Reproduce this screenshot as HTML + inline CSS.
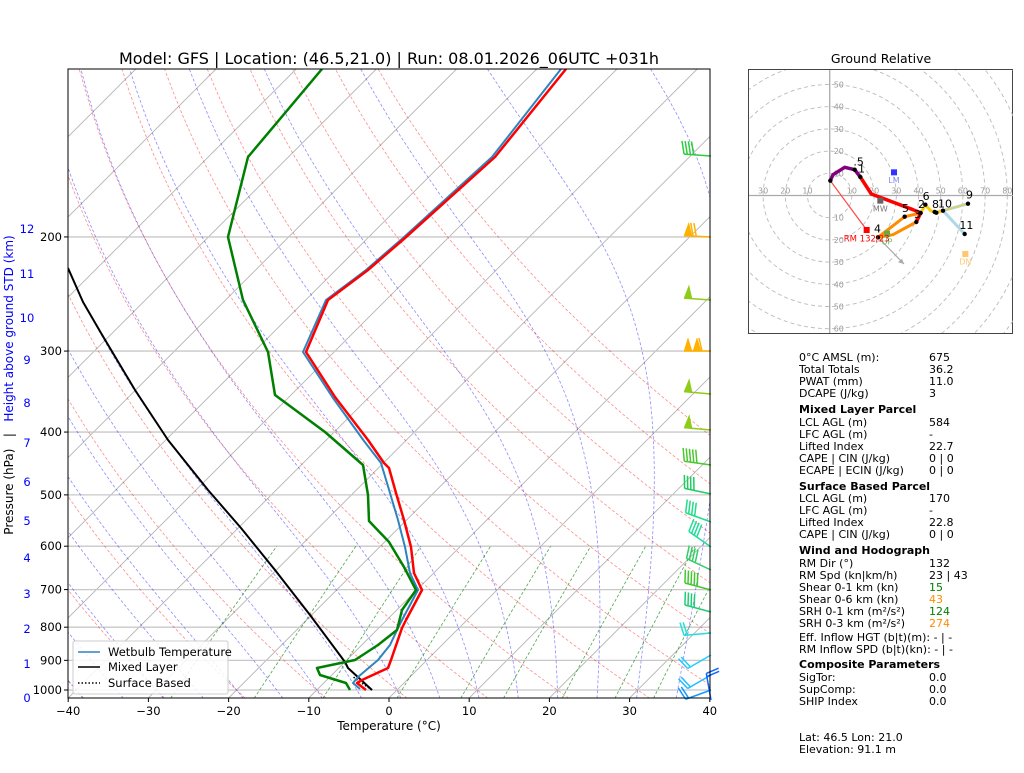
<!DOCTYPE html>
<html><head><meta charset="utf-8"><style>
body{margin:0;background:#fff;width:1024px;height:768px;overflow:hidden;font-family:"Liberation Sans","DejaVu Sans",sans-serif;}
svg text{font-family:"DejaVu Sans","Liberation Sans",sans-serif;}
</style></head><body>
<svg id="s" width="1024" height="768" xmlns="http://www.w3.org/2000/svg">
<defs><clipPath id="c"><rect x="68" y="69" width="642" height="629"/></clipPath>
<clipPath id="h"><rect x="749" y="70" width="264" height="263"/></clipPath>
<clipPath id="bc"><rect x="600" y="69" width="120" height="632"/></clipPath></defs>
<g id="bg" clip-path="url(#c)"></g>
<g id="prof" clip-path="url(#c)" fill="none" stroke-linejoin="round">
<polyline stroke="#000" stroke-width="2" points="372,690 348,668 345,662 310,615 275,570 241,528 208,490 168,440 135,390 101,333 83,302 68,268"/>
<polyline stroke="#000" stroke-width="1.5" stroke-dasharray="1.5,2" points="372,690 360,682 352,676"/>
<polyline stroke="#2f83c0" stroke-width="2" points="360,689 353,683 358,677 378,660 390,645 398,628 402,620 418,590 410,573 405,547 398,520 390,493 381,463 364,441 333,398 303,352 326,300 366,270 403,238 492,157 561,69"/>
<polyline stroke="#ff0000" stroke-width="2.5" points="366,690 357,683 362,680 388,668 391,660 402,628 406,620 422,590 414,573 411,547 404,520 396,493 389,468 384,463 368,440 335,397 306,352 328,300 368,270 405,238 495,157 566,69"/>
<polyline stroke="#008000" stroke-width="2.5" points="350,690 346,683 320,675 317,668 355,660 378,645 397,630 402,610 416,590 404,567 389,542 369,521 368,495 363,465 325,432 275,395 268,352 243,300 228,237 248,157 322,69"/>
</g>
<g id="barbs" fill="none" stroke-width="1.5" clip-path="url(#bc)"></g>
<rect x="68" y="69" width="642" height="629" fill="none" stroke="#000" stroke-width="1"/>
<g font-size="11.5" fill="#000" text-anchor="end" id="yl"></g>
<g font-size="11.5" fill="#00f" text-anchor="middle" id="hl"></g>
<g font-size="11.5" text-anchor="middle" id="xl"></g>
<text x="389" y="730" font-size="12" text-anchor="middle">Temperature (°C)</text>
<text transform="translate(13,385) rotate(-90)" font-size="12" text-anchor="middle" xml:space="preserve"><tspan fill="#000">Pressure (hPa)   |   </tspan><tspan fill="#00f">Height above ground STD (km)</tspan></text>
<text x="389" y="64" font-size="16" text-anchor="middle">Model: GFS | Location: (46.5,21.0) | Run: 08.01.2026_06UTC +031h</text>
<g>
<rect x="73" y="641" width="155" height="53" fill="#fff" fill-opacity="0.85" stroke="#ccc" rx="2"/>
<line x1="78" y1="652" x2="100" y2="652" stroke="#2f83c0" stroke-width="1.6"/>
<line x1="78" y1="667" x2="100" y2="667" stroke="#000" stroke-width="1.6"/>
<line x1="78" y1="683" x2="100" y2="683" stroke="#000" stroke-width="1.6" stroke-dasharray="1.5,2"/>
<g font-size="11.5"><text x="108" y="656">Wetbulb Temperature</text><text x="108" y="671">Mixed Layer</text><text x="108" y="687">Surface Based</text></g>
</g>
<text x="881" y="63" font-size="12.5" text-anchor="middle">Ground Relative</text>
<g id="hodo"></g>
<g font-size="11" id="tp"></g>
</svg>
<script>
const NS="http://www.w3.org/2000/svg";
function el(p,t,a,txt){const e=document.createElementNS(NS,t);for(const k in a)e.setAttribute(k,a[k]);if(txt!==undefined)e.textContent=txt;p.appendChild(e);return e;}
const Y=p=>690-281.5*Math.log(1000/p);
const X=(T,p)=>389+8.02*T+(698-Y(p));
const bg=document.getElementById('bg');
for(let T=-160;T<=40;T+=10){el(bg,'line',{x1:X(T,1030),y1:Y(1030),x2:X(T,100),y2:Y(100),stroke:'#b4b4b4','stroke-width':0.9});}
for(let p=100;p<=1000;p+=100){el(bg,'line',{x1:68,y1:Y(p),x2:710,y2:Y(p),stroke:'#c8c8c8','stroke-width':1.3});}
function pl(pts,a){el(bg,'polyline',Object.assign({points:pts.map(q=>q[0].toFixed(1)+','+q[1].toFixed(1)).join(' '),fill:'none'},a));}
for(let t0=-40;t0<=90;t0+=10){const th=t0+273.15;const pts=[];for(let p=1030;p>=100;p-=10){const T=th*Math.pow(p/1000,0.2857)-273.15;pts.push([X(T,p),Y(p)]);}pl(pts,{stroke:'#ff0000','stroke-opacity':0.45,'stroke-width':0.8,'stroke-dasharray':'3,2'});}
function es(Tc){return 6.112*Math.exp(17.67*Tc/(Tc+243.5));}
function dTdp(T,p){const e=es(T-273.15);const rs=0.622*e/Math.max(p-e,1);const Rd=287.04,Cp=1005.7,Lv=2.501e6;return (Rd*T+Lv*rs)/(p*(Cp+Lv*Lv*rs*0.622/(Rd*T*T)));}
for(let t0=-40;t0<=90;t0+=5){let T=t0+273.15;const pts=[];
 let Td=T;for(let p=1000;p<1030;p+=2){Td+=dTdp(Td,p)*2;}pts.push([X(Td-273.15,1030),Y(1030)]);
 for(let p=1000;p>=100;p-=2){if(p%10==0)pts.push([X(T-273.15,p),Y(p)]);T-=dTdp(T,p)*2;}
 pl(pts,{stroke:'#0000ff','stroke-opacity':0.45,'stroke-width':0.8,'stroke-dasharray':'3,2'});}
[0.0004,0.001,0.002,0.004,0.007,0.01,0.016,0.024,0.032].forEach(w=>{const pts=[];for(let p=1030;p>=600;p-=10){const e=w*p/(0.622+w);const l=Math.log(e/6.112);const Td=243.5*l/(17.67-l);pts.push([X(Td,p),Y(p)]);}pl(pts,{stroke:'#008000','stroke-opacity':0.7,'stroke-width':0.8,'stroke-dasharray':'3,2'});});
const yl=document.getElementById('yl');[200,300,400,500,600,700,800,900,1000].forEach(p=>{el(yl,'text',{x:62,y:Y(p)+4},String(p));el(yl,'line',{x1:64,y1:Y(p),x2:68,y2:Y(p),stroke:'#000'});});
const hl=document.getElementById('hl');[[0,698],[1,664],[2,629],[3,594],[4,558],[5,521],[6,482],[7,443],[8,403],[9,360],[10,318],[11,274],[12,229]].forEach(a=>el(hl,'text',{x:27,y:a[1]+4},String(a[0])));
const xl=document.getElementById('xl');for(let t=-40;t<=40;t+=10){const x=389+8.02*t;el(xl,'text',{x:x,y:715},(t<0?'\u2212':'')+Math.abs(t));el(xl,'line',{x1:x,y1:698,x2:x,y2:702,stroke:'#000'});}
const bb=document.getElementById('barbs');
const B=[[156,'#2ecc40',0,4,4],[237,'#ffb000',1,2,3],[300,'#8fcc1a',1,0,4],[351,'#ffb000',2,1,0],[394,'#8fcc1a',1,0,5],[430,'#8fcc1a',1,0,5],[465,'#4cc830',0,5,8],[494,'#22cc60',0,4,12],[522,'#22dd88',0,4,20],[547,'#22dd99',0,4,35],[570,'#33cc66',0,4,25],[590,'#44c830',0,5,15],[612,'#22cc77',0,4,15],[633,'#22dddd',0,2,-5],[655,'#22ccff',0,2,-30],[675,'#22bbff',0,2,-30],[690,'#1199ff',0,2,-20],[700,'#1166ff',0,2,80]];
B.forEach(b=>{const y=b[0],c=b[1],ang=b[4];
 const g=el(bb,'g',{transform:`translate(711,${y}) rotate(${ang})`,stroke:c});
 el(g,'line',{x1:0,y1:0,x2:-27,y2:0});let x=-27;
 for(let i=0;i<b[2];i++){el(g,'polygon',{points:`${x},0 ${x+4},-13 ${x+8},0`,fill:c,stroke:c,'stroke-width':0.5});x+=9;}
 for(let i=0;i<b[3];i++){el(g,'line',{x1:x,y1:0,x2:x-3,y2:-13});x+=3.2;}
});
const ho=document.getElementById('hodo');
el(ho,'rect',{x:748.5,y:69.5,width:264,height:264,fill:'#fff',stroke:'#444','stroke-width':1});
const hg=el(ho,'g',{'clip-path':'url(#h)'});
const cx=829.7,cy=195.5,k=2.22;
for(let r=10;r<=120;r+=10)el(hg,'circle',{cx:cx,cy:cy,r:r*k,fill:'none',stroke:'#bbb','stroke-dasharray':'4,3','stroke-width':0.9});
el(hg,'line',{x1:749,y1:cy,x2:1013,y2:cy,stroke:'#aaa','stroke-width':1.3});
el(hg,'line',{x1:cx,y1:70,x2:cx,y2:333,stroke:'#aaa','stroke-width':1.3});
for(let r=10;r<=80;r+=10){el(hg,'text',{x:cx+r*k,y:cy-2,'font-size':8,fill:'#999','text-anchor':'middle'},r);if(r<=30)el(hg,'text',{x:cx-r*k,y:cy-2,'font-size':8,fill:'#999','text-anchor':'middle'},r);}
for(let r=10;r<=60;r+=10){el(hg,'text',{x:cx+4,y:cy-r*k+3,'font-size':8,fill:'#999'},r);el(hg,'text',{x:cx+4,y:cy+r*k+3,'font-size':8,fill:'#999'},r);}
const Z=(a)=>a.map(q=>(748+q[0]/3).toFixed(1)+','+(68+q[1]/3).toFixed(1)).join(' ');
function hp(pts,c,w){el(hg,'polyline',{points:Z(pts),fill:'none',stroke:c,'stroke-width':w,'stroke-linejoin':'round'});}
hp([[247,338],[356,486]],'#ff4444',1.2);
hp([[390,508],[468,588]],'#aaa',1.2);
el(hg,'polygon',{points:Z([[468,588],[450,583],[462,572]]),fill:'#aaa'});
hp([[585,428],[660,407]],'#add8e6',3);hp([[585,428],[650,498]],'#add8e6',3);
hp([[518,435],[532,410],[548,428],[565,434],[585,428]],'#ffcc00',3);
hp([[585,428],[660,407]],'#ffcc00',1);
hp([[518,435],[470,446],[390,508],[435,500],[505,462],[518,435]],'#ff8c00',3);
hp([[337,327],[370,378],[495,425],[518,435],[505,462]],'#ff0000',3.5);
hp([[247,338],[255,320],[290,298],[320,305],[337,327]],'#800080',3.5);
[[247,338],[320,305],[337,327],[518,435],[505,462],[390,508],[470,446],[532,410],[565,434],[560,432],[660,407],[585,428],[650,498]].forEach(q=>el(hg,'circle',{cx:748+q[0]/3,cy:68+q[1]/3,r:2.2,fill:'#000'}));
[['.5',316,292],['1',330,313],['2',510,420],['3',498,450],['4',378,493],['5',462,432],['6',524,396],['8',552,420],['10',570,418],['9',654,392],['11',634,483]].forEach(t=>el(hg,'text',{x:748+t[1]/3,y:68+t[2]/3,'font-size':11},t[0]));
function sq(x,y,c){el(hg,'rect',{x:748+x/3-3,y:68+y/3-3,width:6,height:6,fill:c});}
sq(438,313,'#3333ff');el(hg,'text',{x:748+438/3,y:68+345/3,'font-size':8,fill:'#8888ff','text-anchor':'middle'},'LM');
sq(397,398,'#666');el(hg,'text',{x:748+397/3,y:68+430/3,'font-size':8,fill:'#777','text-anchor':'middle'},'MW');
sq(652,558,'#ffc870');el(hg,'text',{x:748+652/3,y:68+590/3,'font-size':8,fill:'#ffc870','text-anchor':'middle'},'DN');
sq(417,497,'#66aa44');el(hg,'text',{x:748+417/3,y:68+530/3,'font-size':8,fill:'#66bb66','text-anchor':'middle'},'UP');
sq(356,486,'#ff0000');el(hg,'text',{x:748+356/3,y:68+520/3,'font-size':8.5,fill:'#ff0000','text-anchor':'middle'},'RM 132/23');
const tp=document.getElementById('tp');
const L=[[357,'0°C AMSL (m):','675'],[369,'Total Totals','36.2'],[381,'PWAT (mm)','11.0'],[393,'DCAPE (J/kg)','3'],[409,'Mixed Layer Parcel',null],[422,'LCL AGL (m)','584'],[434,'LFC AGL (m)','-'],[446,'Lifted Index','22.7'],[458,'CAPE | CIN (J/kg)','0  | 0'],[470,'ECAPE | ECIN (J/kg)','0  | 0'],[486,'Surface Based Parcel',null],[498,'LCL AGL (m)','170'],[510,'LFC AGL (m)','-'],[522,'Lifted Index','22.8'],[534,'CAPE | CIN (J/kg)','0  | 0'],[550,'Wind and Hodograph',null],[563,'RM Dir (°)','132'],[575,'RM Spd (kn|km/h)','23 | 43'],[587,'Shear 0-1 km (kn)','15','#008000'],[599,'Shear 0-6 km (kn)','43','#ff8c00'],[611,'SRH 0-1 km (m²/s²)','124','#008000'],[623,'SRH 0-3 km (m²/s²)','274','#ff8c00'],[637,'Eff. Inflow HGT (b|t)(m): - | -',''],[649,'RM Inflow SPD (b|t)(kn): - | -',''],[664,'Composite Parameters',null],[677,'SigTor:','0.0'],[689,'SupComp:','0.0'],[701,'SHIP Index','0.0'],[737,'Lat: 46.5  Lon: 21.0',''],[749,'Elevation: 91.1 m','']];
L.forEach(l=>{const a={x:799,y:l[0]+4,'xml:space':'preserve'};if(l[2]===null)a['font-weight']='bold';el(tp,'text',a,l[1]);if(l[2])el(tp,'text',{x:929,y:l[0]+4,fill:l[3]||'#000','xml:space':'preserve'},l[2]);});
</script>
</body></html>
